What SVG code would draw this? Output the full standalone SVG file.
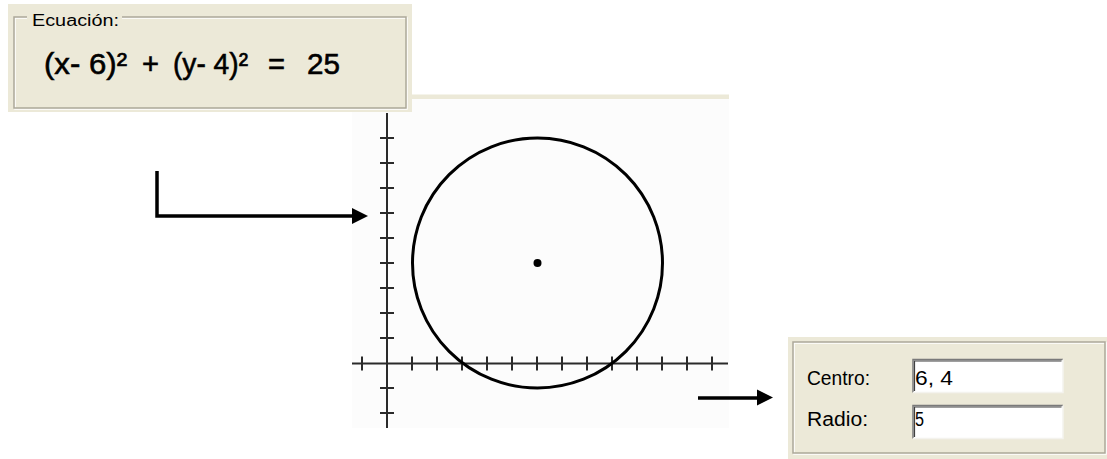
<svg xmlns="http://www.w3.org/2000/svg" width="1107" height="459" viewBox="0 0 1107 459">
  <style>
    .panel { fill: #ECE9D8; }
    .etch-d { fill: none; stroke: #ACA899; stroke-width: 1.5; }
    .etch-l { fill: none; stroke: #FFFFFF; stroke-width: 1.5; }
    .lbl { font-family: "Liberation Sans", Arial, sans-serif; fill: #000; }
    .eq { font-family: "Liberation Sans", Arial, sans-serif; font-size: 30px; fill: #000; stroke: #000; stroke-width: 0.6; }
    .axis { stroke: #2a2a2a; stroke-width: 2; fill: none; }
    .conn { stroke: #000; stroke-width: 3.5; fill: none; }
    .head { fill: #000; }
  </style>
  <rect width="1107" height="459" fill="#FFFFFF"/>

  <!-- Graph area -->
  <g id="graph">
    <rect x="352" y="97" width="377" height="331" fill="#FCFCFC"/>
    <rect x="412" y="94.5" width="317" height="4.5" fill="#ECE9D8"/>
    <line class="axis" x1="387" y1="113" x2="387" y2="428"/>
    <line class="axis" x1="352" y1="363.5" x2="728" y2="363.5"/>
    <path class="axis" d="M380 138H394M380 163H394M380 188H394M380 213H394M380 238H394M380 263H394M380 288H394M380 313H394M380 338H394M380 388H394M380 413H394"/>
    <path class="axis" d="M362 356.5V370.5M412 356.5V370.5M437 356.5V370.5M462 356.5V370.5M487 356.5V370.5M512 356.5V370.5M537 356.5V370.5M562 356.5V370.5M587 356.5V370.5M612 356.5V370.5M637 356.5V370.5M662 356.5V370.5M687 356.5V370.5M712 356.5V370.5"/>
    <circle cx="537.5" cy="263" r="125" fill="none" stroke="#000" stroke-width="3"/>
    <circle cx="537.5" cy="263" r="4" fill="#000"/>
  </g>

  <!-- Equation panel -->
  <g id="equation-panel">
    <rect class="panel" x="8" y="4" width="404" height="108"/>
    <rect class="etch-l" x="15" y="18" width="392" height="91"/>
    <rect class="etch-d" x="14" y="17" width="392" height="91"/>
    <rect x="27" y="10" width="95" height="14" fill="#ECE9D8"/>
    <text class="lbl" x="32" y="26" font-size="16" textLength="87" lengthAdjust="spacingAndGlyphs">Ecuación:</text>
    <g class="eq">
      <text x="44" y="74" textLength="83" lengthAdjust="spacingAndGlyphs">(x- 6)²</text>
      <text x="142" y="74" textLength="17" lengthAdjust="spacingAndGlyphs">+</text>
      <text x="173" y="74" textLength="75" lengthAdjust="spacingAndGlyphs">(y- 4)²</text>
      <text x="268" y="74" textLength="17" lengthAdjust="spacingAndGlyphs">=</text>
      <text x="307" y="74" textLength="33" lengthAdjust="spacingAndGlyphs">25</text>
    </g>
  </g>

  <!-- Result panel -->
  <g id="result-panel">
    <rect class="panel" x="788" y="337" width="319" height="122"/>
    <rect class="etch-l" x="794" y="343" width="312" height="111"/>
    <rect class="etch-d" x="793" y="342" width="312" height="111"/>
    <text class="lbl" x="807" y="385" font-size="19.5" textLength="63" lengthAdjust="spacingAndGlyphs">Centro:</text>
    <text class="lbl" x="807" y="426" font-size="19.5" textLength="61" lengthAdjust="spacingAndGlyphs">Radio:</text>
    <g id="centro-box">
      <rect x="913" y="359.5" width="150" height="33" fill="#FFFFFF"/>
      <path d="M913 392.5V359.5H1063" fill="none" stroke="#7A7A7A" stroke-width="1.5"/>
      <path d="M914.5 391V361H1061.5" fill="none" stroke="#404040" stroke-width="1.2"/>
      <path d="M913 392.5H1063V359.5" fill="none" stroke="#F4F3EE" stroke-width="1.5"/>
      <text class="lbl" x="915" y="385" font-size="19.5" textLength="38" lengthAdjust="spacingAndGlyphs">6, 4</text>
    </g>
    <g id="radio-box">
      <rect x="913" y="405.5" width="150" height="33" fill="#FFFFFF"/>
      <path d="M913 438.5V405.5H1063" fill="none" stroke="#7A7A7A" stroke-width="1.5"/>
      <path d="M914.5 437V407H1061.5" fill="none" stroke="#404040" stroke-width="1.2"/>
      <path d="M913 438.5H1063V405.5" fill="none" stroke="#F4F3EE" stroke-width="1.5"/>
      <text class="lbl" x="915" y="426" font-size="19.5" textLength="9" lengthAdjust="spacingAndGlyphs">5</text>
    </g>
  </g>

  <!-- Connectors -->
  <g id="connectors">
    <path class="conn" d="M157 171V216H353"/>
    <polygon class="head" points="352,208 368,216 352,224"/>
    <path class="conn" d="M698 398H758"/>
    <polygon class="head" points="757,389.5 773,397.5 757,405.5"/>
  </g>
</svg>
